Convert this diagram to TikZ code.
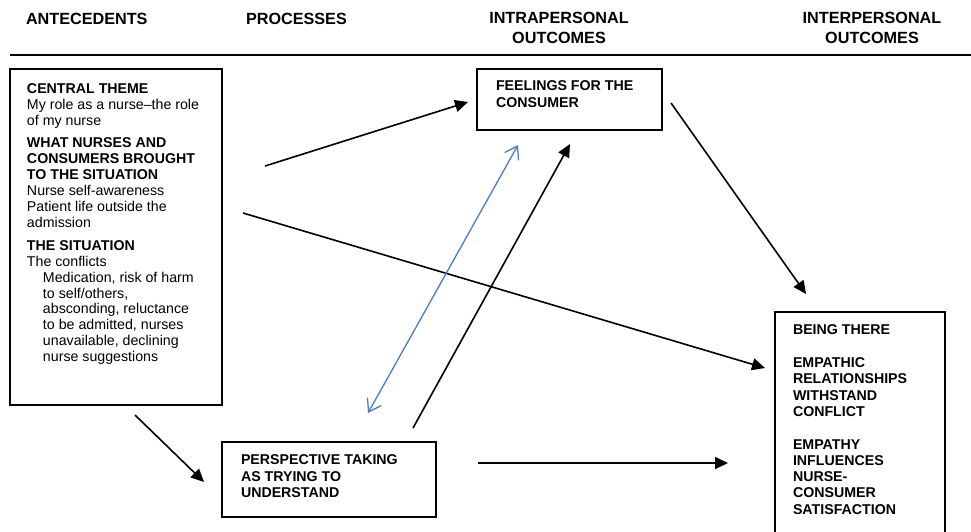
\documentclass[tikz,border=0pt]{standalone}
\usepackage{fontspec}
\setmainfont{Liberation Sans}
\usetikzlibrary{arrows.meta,calc}
\definecolor{arrblue}{RGB}{74,126,193}
\begin{document}
\begin{tikzpicture}[x=1pt,y=-1pt,
  box/.style={draw=black,line width=1.5pt,inner sep=0pt,outer sep=0pt,anchor=north west},
  txt/.style={inner sep=0pt,outer sep=0pt,anchor=north west,align=left,font=\fontsize{14.2}{16.3}\selectfont},
  ltxt/.style={txt,font=\fontsize{14.2}{15.9}\selectfont},
  btxt/.style={txt,font=\fontsize{14.2}{16.3}\selectfont\bfseries},
  head/.style={inner sep=0pt,outer sep=0pt,align=center,font=\fontsize{16.2}{20}\selectfont\bfseries},
  arr/.style={line width=1.6pt,-{Triangle[length=13pt,width=12pt]}},
  barr/.style={line width=1.3pt,arrblue,{Straight Barb[length=12pt,width=16pt]}-{Straight Barb[length=12pt,width=16pt]}}
]
\useasboundingbox (0,0) rectangle (971,531);
\fill[white] (0,0) rectangle (971,531);

% headers
\node[head,anchor=base west] (hA) at (26,24) {ANTECEDENTS};
\node[head,anchor=base west] (hP) at (246,24) {PROCESSES};
\node[head,anchor=north] (hI) at (559,12.3) {INTRAPERSONAL\\OUTCOMES};
\node[head,anchor=north] (hE) at (872,12.3) {INTERPERSONAL\\OUTCOMES};
\draw[line width=2.2pt] (10,55) -- (971,55);

% boxes
\node[box,minimum width=212pt,minimum height=336pt] (ante) at (10,69) {};
\node[box,minimum width=185pt,minimum height=61pt] (feel) at (477,69) {};
\node[box,minimum width=170pt,minimum height=240pt] (being) at (775,312) {};
\node[box,minimum width=214pt,minimum height=75pt] (persp) at (222,442) {};

% box texts
\node[ltxt] (anteT) at (27,83.3) {\textbf{CENTRAL THEME}\\
My role as a nurse–the role\\
of my nurse\\[7pt]
\textbf{WHAT NURSES AND}\\
\textbf{CONSUMERS BROUGHT}\\
\textbf{TO THE SITUATION}\\
Nurse self-awareness\\
Patient life outside the\\
admission\\[7pt]
\textbf{THE SITUATION}\\
The conflicts\\
\hspace*{16pt}Medication, risk of harm\\
\hspace*{16pt}to self/others,\\
\hspace*{16pt}absconding, reluctance\\
\hspace*{16pt}to be admitted, nurses\\
\hspace*{16pt}unavailable, declining\\
\hspace*{16pt}nurse suggestions};

\node[btxt] (feelT) at (496,81) {FEELINGS FOR THE\\CONSUMER};
\node[btxt] (beingT) at (793,325) {BEING THERE\\[16.3pt]
EMPATHIC\\RELATIONSHIPS\\WITHSTAND\\CONFLICT\\[16.3pt]
EMPATHY\\INFLUENCES\\NURSE-\\CONSUMER\\SATISFACTION};
\node[btxt] (perspT) at (241,455) {PERSPECTIVE TAKING\\AS TRYING TO\\UNDERSTAND};

% connector ends
\coordinate (a1s) at (265,166);
\coordinate (a1e) at (468,102);
\coordinate (a2s) at (243,213);
\coordinate (a2e) at (765,368);
\coordinate (a3s) at (671,103);
\coordinate (a3e) at (806,294);
\coordinate (a4s) at (135,415);
\coordinate (a4e) at (204,482);
\coordinate (a5s) at (478,463);
\coordinate (a5e) at (728,463);
\coordinate (a6s) at (413,428);
\coordinate (a6e) at (570,144);
\coordinate (b1s) at (368,413);
\coordinate (b1e) at (518,145);

\draw[arr] (a1s) -- (a1e);
\draw[arr] (a2s) -- (a2e);
\draw[arr] (a3s) -- (a3e);
\draw[arr] (a4s) -- (a4e);
\draw[arr] (a5s) -- (a5e);
\draw[arr] (a6s) -- (a6e);
\draw[barr] (b1s) -- (b1e);
\end{tikzpicture}
\end{document}
